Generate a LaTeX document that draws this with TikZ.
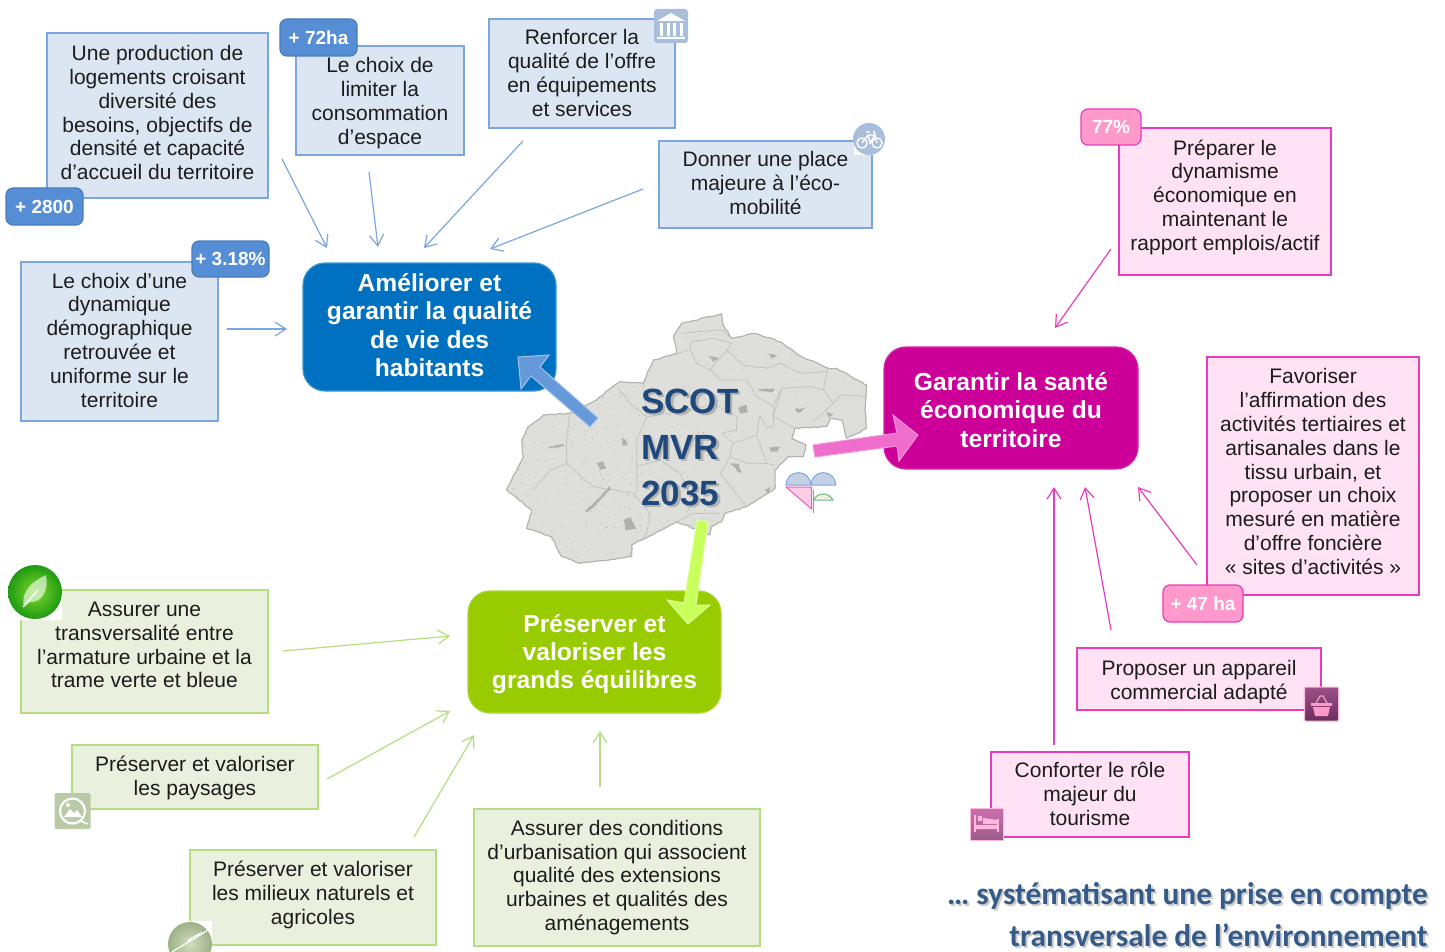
\documentclass[tikz,border=0pt]{standalone}
\usepackage{fontspec}
\setmainfont{Liberation Sans}
\newfontfamily\carlitofont{Carlito}
\usetikzlibrary{arrows.meta,shadings,decorations.pathmorphing}
\definecolor{bluefill}{HTML}{DCE6F2}
\definecolor{blueline}{HTML}{7CA6E0}
\definecolor{bluebadge}{HTML}{558ED5}
\definecolor{bluebadgeline}{HTML}{4A7EBB}
\definecolor{pinkfill}{HTML}{FFE2F3}
\definecolor{pinkline}{HTML}{E83CBC}
\definecolor{pinkbadge}{HTML}{FF99CC}
\definecolor{greenfill}{HTML}{EAF0DE}
\definecolor{greenline}{HTML}{B4DE80}
\definecolor{mainblue}{HTML}{0070C0}
\definecolor{mainpink}{HTML}{CC0099}
\definecolor{maingreen}{HTML}{99CC00}
\definecolor{titleblue}{HTML}{1F497D}
\definecolor{iconblue}{HTML}{A9BEDA}
\definecolor{mapfill}{HTML}{DEDEDB}
\definecolor{mapline}{HTML}{B4B4AE}
\definecolor{mapinner}{HTML}{C2C2BC}
\definecolor{mapdots}{HTML}{A6A6A0}
\definecolor{bodytext}{HTML}{1C1C1C}
\definecolor{lime}{HTML}{C9FF5A}
\definecolor{limeedge}{HTML}{DDFF9A}
\newcommand{\dn}[1]{\rule[-#1pt]{0pt}{#1pt}}
\newcommand{\upd}[1]{\rule{0pt}{#1pt}}
\tikzset{
  body/.style={font=\fontsize{21}{23.8}\selectfont,text=bodytext,align=center,inner sep=0pt,line width=1.5pt},
  bluebox/.style={body,draw=blueline,fill=bluefill},
  pinkbox/.style={body,draw=pinkline,fill=pinkfill},
  greenbox/.style={body,draw=greenline,fill=greenfill},
  badge/.style={font=\bfseries\fontsize{19}{22}\selectfont,text=white,rounded corners=7pt,inner sep=0pt,line width=1.2pt},
  bluebadgebox/.style={badge,fill=bluebadge,draw=bluebadgeline},
  pinkbadgebox/.style={badge,fill=pinkbadge,draw=pinkline},
  mainbox/.style={font=\bfseries\fontsize{24.6}{28.3}\selectfont,text=white,align=center,inner sep=0pt,rounded corners=22pt,line width=1.2pt},
  thin arrow/.style={-{Straight Barb[length=11pt,width=14pt,line width=1.2pt]},line width=1.2pt},
  bluearrow/.style={thin arrow,draw=blueline},
  pinkarrow/.style={thin arrow,draw=pinkline},
  greenarrow/.style={thin arrow,draw=greenline},
  iconsq/.style={inner sep=0pt,minimum width=34pt,minimum height=34pt,rounded corners=3pt},
  sco/.style={font=\bfseries\fontsize{35}{46}\selectfont,align=left,inner sep=0pt,anchor=west},
  concl/.style={font=\carlitofont\bfseries\fontsize{31.3}{42}\selectfont,align=right,inner sep=0pt,anchor=east},
}
\begin{document}
\begin{tikzpicture}[x=1pt,y=-1pt]
\useasboundingbox (0,0) rectangle (1445,952);
\fill[white] (0,0) rectangle (1445,952);

% ---- map
\begin{scope}[shift={(480,300)},x=.33333pt,y=-.33333pt]
\path[fill=mapfill,draw=mapline,line width=1.2pt,line join=round,decorate,decoration={random steps,segment length=4pt,amplitude=.6pt}]
  (725,42)--(730,75)--(755,115)--(825,100)--(900,125)--(965,170)--(1045,205)--(1070,205)--(1160,255)--(1155,330)--(1160,385)--(1100,415)--(1085,360)--(1050,355)--(1040,380)--(945,385)--(935,415)--(978,435)--(970,470)--(925,470)--(885,510)--(885,565)--(800,620)--(735,640)--(725,665)--(695,680)--(690,705)--(590,665)--(455,735)--(455,770)--(300,790)--(245,770)--(215,710)--(140,685)--(155,630)--(80,570)--(130,470)--(125,420)--(145,380)--(190,345)--(270,340)--(340,305)--(420,245)--(490,250)--(520,180)--(590,160)--(580,110)--(605,70)--cycle;
\begin{scope}
\clip (725,42)--(730,75)--(755,115)--(825,100)--(900,125)--(965,170)--(1045,205)--(1070,205)--(1160,255)--(1155,330)--(1160,385)--(1100,415)--(1085,360)--(1050,355)--(1040,380)--(945,385)--(935,415)--(978,435)--(970,470)--(925,470)--(885,510)--(885,565)--(800,620)--(735,640)--(725,665)--(695,680)--(690,705)--(590,665)--(455,735)--(455,770)--(300,790)--(245,770)--(215,710)--(140,685)--(155,630)--(80,570)--(130,470)--(125,420)--(145,380)--(190,345)--(270,340)--(340,305)--(420,245)--(490,250)--(520,180)--(590,160)--(580,110)--(605,70)--cycle;
\pgfmathsetseed{35}
\foreach \i in {1,...,420}{
  \pgfmathsetmacro{\dx}{100+rnd*600}
  \pgfmathsetmacro{\dy}{260+rnd*500}
  \fill[mapdots] (\dx,\dy) circle[radius=.45pt];
}
\foreach \i in {1,...,90}{
  \pgfmathsetmacro{\dx}{600+rnd*500}
  \pgfmathsetmacro{\dy}{100+rnd*450}
  \fill[mapinner] (\dx,\dy) circle[radius=.45pt];
}
\draw[mapinner,line width=.7pt,line join=round,decorate,decoration={random steps,segment length=4pt,amplitude=.4pt}]
  (580,165)--(630,150)--(635,125)--(700,115)--(755,130)
  (605,100)--(650,95)--(725,90)--(755,115)
  (630,150)--(650,190)--(690,210)--(740,150)--(755,130)
  (740,150)--(790,195)--(860,205)--(900,190)--(965,220)--(1040,215)--(1045,205)
  (690,210)--(720,240)--(800,240)--(830,290)--(880,320)--(905,265)--(990,260)--(1030,270)--(1040,215)
  (1030,270)--(1060,310)--(1080,285)--(1155,290)
  (1060,310)--(1000,365)
  (905,265)--(880,350)--(945,385)
  (880,320)--(880,380)--(860,385)--(840,345)--(830,405)--(760,430)--(725,400)--(770,390)--(770,350)--(700,310)--(640,330)--(500,350)
  (830,405)--(860,490)--(885,495)
  (760,430)--(750,470)--(800,490)--(860,490)
  (500,350)--(490,250)
  (415,265)--(450,310)--(500,350)
  (270,340)--(260,420)--(260,490)--(210,510)--(160,570)
  (260,490)--(340,560)--(460,580)--(510,640)--(500,700)--(440,770)
  (500,350)--(470,420)--(470,580)
  (590,665)--(640,640)--(720,640)
  (750,470)--(720,520)--(800,620)
  (470,500)--(540,480)--(600,520)--(640,600)--(620,640);
\fill[mapdots,opacity=.8,decorate,decoration={random steps,segment length=2pt,amplitude=.7pt}]
  (350,490)--(368,484)--(378,505)--(362,510)--cycle
  (425,415)--(438,418)--(442,436)--(428,436)--cycle
  (315,632)--(360,592)--(388,558)--(392,566)--(350,612)--(322,637)--cycle
  (205,440)--(250,432)--(252,438)--(210,446)--cycle
  (430,660)--(452,652)--(470,685)--(438,692)--cycle
  (775,322)--(800,314)--(804,336)--(780,340)--cycle
  (945,327)--(980,322)--(955,340)--cycle
  (835,266)--(885,267)--(878,276)--(838,274)--cycle
  (868,442)--(900,438)--(892,456)--(872,456)--cycle
  (1040,337)--(1062,341)--(1046,351)--cycle
  (752,490)--(776,492)--(786,520)--(770,512)--cycle
  (852,570)--(872,562)--(868,582)--cycle
  (862,160)--(892,166)--(878,176)--cycle
  (684,166)--(716,176)--(700,186)--cycle;
\end{scope}
\end{scope}

% ---- logo heart
\path[fill=iconblue!70!white,draw=blueline,line width=1pt] (786,485) arc[start angle=180,end angle=0,radius=12.4pt]--cycle;
\path[fill=iconblue!70!white,draw=blueline,line width=1pt] (811,485) arc[start angle=180,end angle=0,radius=12.4pt]--cycle;
\path[fill=pinkbadge!50!white,draw=pinkline!85!white,line width=1pt] (786,487)--(811.5,487)--(811.5,509)--cycle;
\draw[greenline!60!teal,line width=1pt] (813.5,490)--(813.5,513);
\path[fill=greenfill,draw=greenline!60!teal,line width=1pt] (814,500) .. controls (816,493) and (828,491) .. (833,500)--cycle;

% ---- boxes
\node[bluebox,minimum width=221pt,minimum height=165pt] (prod) at (157.5,115.5) {Une production de\\logements croisant\\diversité des\\besoins, objectifs de\\densité et capacité\\d’accueil du territoire\dn{6}};
\node[bluebadgebox,minimum width=77pt,minimum height=37pt] (b2800) at (44.5,206.5) {+ 2800};
\node[bluebox,minimum width=168pt,minimum height=109pt] (limiter) at (380,100.5) {\upd{20}Le choix de\\limiter la\\consommation\\d’espace};
\node[bluebadgebox,minimum width=77pt,minimum height=37pt] (b72) at (318.5,37.5) {+ 72ha};
\node[bluebox,minimum width=186pt,minimum height=109pt] (renforcer) at (582,73.5) {Renforcer la\\qualité de l’offre\\en équipements\\et services\dn{1}};
\node[bluebox,minimum width=213pt,minimum height=87pt] (mobilite) at (765.5,184.5) {Donner une place\\majeure à l’éco-\\mobilité\dn{3}};
\node[bluebox,minimum width=197pt,minimum height=159pt] (demo) at (119.5,341.5) {Le choix d’une\\dynamique\\démographique\\retrouvée et\\uniforme sur le\\territoire\dn{3}};
\node[bluebadgebox,minimum width=77pt,minimum height=36pt] (b318) at (230.5,259) {+ 3.18\%};

\node[pinkbox,minimum width=212pt,minimum height=147pt] (preparer) at (1225,201.5) {Préparer le\\dynamisme\\économique en\\maintenant le\\rapport emplois/actif\dn{13}};
\node[pinkbadgebox,minimum width=60pt,minimum height=36pt] (b77) at (1111,127) {77\%};
\node[pinkbox,minimum width=212pt,minimum height=238pt] (favoriser) at (1313,476) {Favoriser\\l’affirmation des\\activités tertiaires et\\artisanales dans le\\tissu urbain, et\\proposer un choix\\mesuré en matière\\d’offre foncière\\« sites d’activités »\dn{9}};
\node[pinkbadgebox,minimum width=80pt,minimum height=37pt] (b47) at (1203,603.5) {+ 47 ha};
\node[pinkbox,minimum width=244pt,minimum height=62pt] (proposer) at (1199,679) {\upd{21}Proposer un appareil\\commercial adapté};
\node[pinkbox,minimum width=198pt,minimum height=85pt] (conforter) at (1090,794.5) {Conforter le rôle\\majeur du\\tourisme\dn{1}};

\node[greenbox,minimum width=247pt,minimum height=123pt] (assurer) at (144.5,651.5) {Assurer une\\transversalité entre\\l’armature urbaine et la\\trame verte et bleue\dn{13}};
\node[greenbox,minimum width=246pt,minimum height=64pt] (paysages) at (195,777) {\upd{18}Préserver et valoriser\\les paysages};
\node[greenbox,minimum width=246pt,minimum height=95pt] (milieux) at (313,897.5) {Préserver et valoriser\\les milieux naturels et\\agricoles\dn{9}};
\node[greenbox,minimum width=286pt,minimum height=137pt] (conditions) at (617,877.5) {Assurer des conditions\\d’urbanisation qui associent\\qualité des extensions\\urbaines et qualités des\\aménagements\dn{2}};

% ---- main nodes
\node[mainbox,fill=mainblue,draw=mainblue!75!white,minimum width=253pt,minimum height=128pt] (qualite) at (429.5,327) {Améliorer et\\garantir la qualité\\de vie des\\habitants\dn{4}};
\node[mainbox,fill=mainpink,draw=mainpink!85!white,minimum width=254pt,minimum height=122pt] (sante) at (1011,408) {\upd{22}Garantir la santé\\économique du\\territoire};
\node[mainbox,fill=maingreen,draw=maingreen!80!white,minimum width=253pt,minimum height=122pt] (equilibres) at (594.5,652) {\upd{22}Préserver et\\valoriser les\\grands équilibres};

% ---- connector ends
\coordinate (a1s) at (282,159); \coordinate (a1e) at (327,248);
\coordinate (a2s) at (369,172); \coordinate (a2e) at (378,247);
\coordinate (a3s) at (523,141); \coordinate (a3e) at (424,248);
\coordinate (a4s) at (643,189); \coordinate (a4e) at (490,249);
\coordinate (a5s) at (227,329); \coordinate (a5e) at (287,329);
\coordinate (p1s) at (1111,249); \coordinate (p1e) at (1055,328);
\coordinate (p2s) at (1197,565); \coordinate (p2e) at (1138,487);
\coordinate (p3s) at (1111,630); \coordinate (p3e) at (1085,487);
\coordinate (p4s) at (1054,745); \coordinate (p4e) at (1054,487);
\coordinate (g1s) at (283,651); \coordinate (g1e) at (450,636);
\coordinate (g2s) at (327,779); \coordinate (g2e) at (450,711);
\coordinate (g3s) at (414,837); \coordinate (g3e) at (474,735);
\coordinate (g4s) at (600,787); \coordinate (g4e) at (600,731);
\draw[bluearrow] (a1s)--(a1e);
\draw[bluearrow] (a2s)--(a2e);
\draw[bluearrow] (a3s)--(a3e);
\draw[bluearrow] (a4s)--(a4e);
\draw[bluearrow] (a5s)--(a5e);
\draw[pinkarrow] (p1s)--(p1e);
\draw[pinkarrow] (p2s)--(p2e);
\draw[pinkarrow] (p3s)--(p3e);
\draw[pinkarrow] (p4s)--(p4e);
\draw[greenarrow] (g1s)--(g1e);
\draw[greenarrow] (g2s)--(g2e);
\draw[greenarrow] (g3s)--(g3e);
\draw[greenarrow] (g4s)--(g4e);

% ---- block arrows
\fill[bluebadge!90!white,draw=blueline!70!white,line width=1pt,line join=miter]
  (518,357)--(549,355)--(540,367)--(598,418)--(590,427)--(531,376)--(521,389)--cycle;
\fill[pinkline!75!white,draw=pinkline!55!white,line width=1pt]
  (813,445)--(897,433)--(893,415)--(918,435)--(899,461)--(897,446)--(815,457)--cycle;
\fill[lime,draw=limeedge,line width=1pt]
  (697,520)--(708,522)--(696,605)--(710,605)--(688,624)--(667,600)--(684,603)--cycle;

% ---- centre title
\node[sco,text=gray,opacity=.45] (titleshadow) at (643.5,449.5) {SCOT\\MVR\\2035};
\node[sco,text=titleblue] (title) at (641,447) {SCOT\\MVR\\2035};

% ---- conclusion
\node[concl,text=gray,opacity=.4] (conclshadow) at (1430,917) {… systématisant une prise en compte\\transversale de l’environnement};
\node[concl,text=titleblue!90!white] (concl) at (1428,915) {… systématisant une prise en compte\\transversale de l’environnement};

% ---- icons
\node[iconsq,fill=iconblue] (ibank) at (671,26) {};
\fill[white] (657,21)--(671,13)--(685,21)--cycle;
\foreach \cx in {660,666.5,673,679.5}{\fill[white] (\cx,23) rectangle ++(3,13);}
\fill[white] (657,37) rectangle (685,39);

\fill[white] (854,124) rectangle (885,155);
\node[circle,fill=iconblue,minimum size=32pt,inner sep=0pt] (ibike) at (869,139) {};
\draw[white,line width=1.4pt] (862,143) circle[radius=5pt] (877,143) circle[radius=5pt];
\draw[white,line width=1.4pt] (862,143)--(868,135)--(875,135)--(877,143) (868,135)--(870,143)--(875,135) (866,132)--(870,132) (874,131)--(875,135);

\definecolor{basktop}{HTML}{9C5087}\definecolor{baskbot}{HTML}{6B2F5C}
\node[iconsq,shading=axis,top color=basktop,bottom color=baskbot,draw=pinkbadge!70!white,line width=1pt,rounded corners=1pt] (ibasket) at (1321.5,704) {};
\fill[pinkbadge] (1311,703) rectangle (1332,706);
\fill[pinkbadge] (1313,707)--(1330,707)--(1328,716)--(1315,716)--cycle;
\draw[pinkbadge,line width=1.2pt] (1316,703)--(1320,696)--(1323,696)--(1327,703);

\definecolor{bedtop}{HTML}{CC6FB0}\definecolor{bedbot}{HTML}{9A5C8A}
\node[iconsq,minimum width=33pt,minimum height=32pt,shading=axis,top color=bedtop,bottom color=bedbot,draw=pinkbadge!70!white,line width=.8pt,rounded corners=0pt] (ibed) at (986.5,824) {};
\draw[pinkbadge!70!white,line width=1.3pt] (975,815)--(975,832) (998,819)--(998,832);
\fill[pinkbadge!70!white] (975,825) rectangle (998,829) (978,816) rectangle (982,821) (983,818)--(998,820)--(998,824)--(983,824)--cycle;

\fill[white] (3,565) rectangle (62,620);
\definecolor{leafin}{HTML}{7FD830}\definecolor{leafout}{HTML}{1F9A10}
\node[circle,minimum size=54pt,inner sep=0pt,shading=radial,inner color=leafin,outer color=leafout] (ileaf) at (35,592) {};
\fill[white,opacity=.6] (24,607) .. controls (20,590) and (35,580) .. (46,575) .. controls (49,590) and (42,603) .. (30,602)--cycle;
\draw[white,line width=1.2pt] (23,607)--(38,590);

\node[iconsq,minimum width=36pt,minimum height=36pt,fill=greenline!55!gray!70!white,rounded corners=2pt] (ilandscape) at (72.5,811) {};
\draw[white,line width=2.2pt] (72.5,811) circle[radius=12.5pt];
\fill[white] (64,817)--(70,809)--(74,813)--(77,810)--(82,817)--cycle (68,805) circle[radius=2pt];
\draw[white,line width=1.5pt] (80,821)--(88,824);

\fill[white] (168,921) rectangle (212,952);
\definecolor{wheatin}{HTML}{D2DEBE}\definecolor{wheatout}{HTML}{9DB088}
\node[circle,minimum size=44pt,inner sep=0pt,shading=radial,inner color=wheatin,outer color=wheatout] (iwheat) at (190,944) {};
\draw[white,line width=1.2pt] (172,952)--(208,930);
\draw[white,line width=3pt,dash pattern=on 2pt off 1pt] (188,941)--(202,933);
\end{tikzpicture}
\end{document}
